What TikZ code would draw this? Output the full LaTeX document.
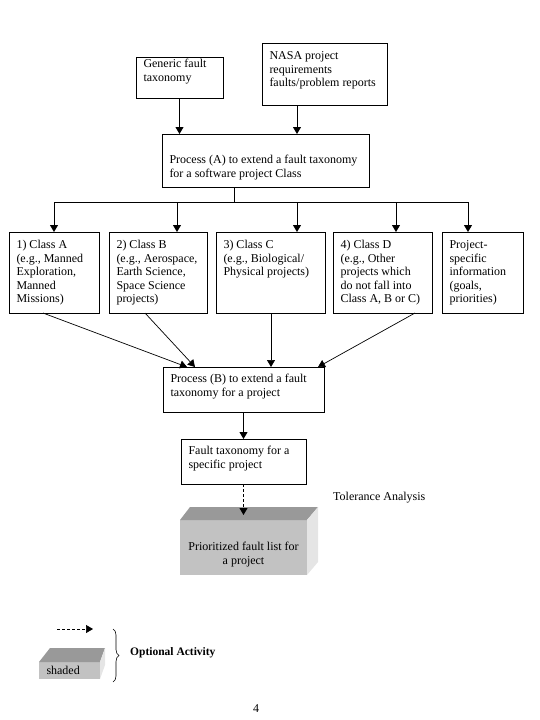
\documentclass[tikz,border=0pt]{standalone}
\usepackage{fontspec}
\setmainfont{Liberation Serif}
\usetikzlibrary{arrows.meta, positioning, decorations.pathreplacing}

% box contents: width, height, top pad, text
\newcommand{\ftext}[4]{\parbox[c][#2][t]{#1}{\raggedright\vspace*{#3}\strut #4}}

\definecolor{topgray}{gray}{0.6}
\definecolor{frontgray}{gray}{0.76}
\definecolor{sidegray}{gray}{0.9}

\begin{document}
\begin{tikzpicture}[x=1pt, y=-1pt,
      font=\fontsize{12}{13.5}\selectfont,
      fbox/.style={draw=black, line width=0.8pt, anchor=north west, inner xsep=7.5pt, inner ysep=0pt, outer sep=0pt},
      shbox/.style={fill=frontgray, anchor=north west, inner xsep=7.5pt, inner ysep=0pt, outer sep=0pt},
      arr/.style={-{Triangle[width=8pt, length=7pt]}, line width=0.9pt, draw=black},
      darr/.style={arr, line width=0.7pt},
      line/.style={line width=0.9pt, draw=black},
      lbl/.style={inner sep=0pt, anchor=base west}
    ]

      \useasboundingbox (0,0) rectangle (540,720);

      % Inputs
      \node[fbox] (gen) at (136,57) {\ftext{72pt}{41pt}{1.5pt}{Generic fault\\taxonomy}};
      \node[fbox] (nasa) at (262,43) {\ftext{110pt}{62pt}{7.5pt}{NASA project\\requirements\\faults/problem reports}};

      % Process A
      \node[fbox] (procA) at (162,134) {\ftext{192pt}{53pt}{20.5pt}{Process (A) to extend a fault taxonomy\\for a software project Class}};

      % Row of classes
      \node[fbox] (clsA) at (9,232) {\ftext{75pt}{81pt}{7.5pt}{1) Class A\\(e.g., Manned\\Exploration,\\Manned\\Missions)}};
      \node[fbox, right=10pt of clsA.north east, anchor=north west] (clsB) {\ftext{83pt}{81pt}{7.5pt}{2) Class B\\(e.g., Aerospace,\\Earth Science,\\Space Science\\projects)}};
      \node[fbox, right=9pt of clsB.north east, anchor=north west] (clsC) {\ftext{94pt}{81pt}{7.5pt}{3) Class C\\(e.g., Biological/\\Physical projects)}};
      \node[fbox, right=8pt of clsC.north east, anchor=north west] (clsD) {\ftext{84pt}{81pt}{7.5pt}{4) Class D\\(e.g., Other\\projects which\\do not fall into\\Class A, B or C)}};
      \node[fbox, right=10pt of clsD.north east, anchor=north west] (proj) {\ftext{66pt}{81pt}{7.5pt}{Project-\\specific\\information\\(goals,\\priorities)}};

      % Process B and result
      \node[fbox] (procB) at (163,367) {\ftext{146pt}{45pt}{6.5pt}{Process (B) to extend a fault\\taxonomy for a project}};
      \node[fbox] (ftax) at (181,439) {\ftext{110pt}{45pt}{6.5pt}{Fault taxonomy for a\\specific project}};

      % Shaded block (optional)
      \node[shbox] (pfl) at (180,520) {\parbox[c][55pt][t]{112pt}{\centering\vspace*{21.5pt}\strut Prioritized fault list for\\a project}};
      \fill[topgray] (pfl.north west) -- ++(10,-13) -- ++(128,0) -- (pfl.north east) -- cycle;
      \fill[sidegray] (pfl.north east) -- ++(11,-13) -- ++(0,55) -- (pfl.south east) -- cycle;

      \node[lbl] (tol) at (333,500) {Tolerance Analysis};

      % Arrows into Process A
      \draw[arr] (gen.south) -- (gen.south |- procA.north);
      \coordinate (nasaout) at ([xshift=-27.5pt]nasa.south);
      \draw[arr] (nasaout) -- (nasaout |- procA.north);

      % Bus from Process A to the classes
      \coordinate (bus) at (234,202);
      \draw[line] ([xshift=-31.5pt]procA.south) -- (bus);
      \coordinate (busend) at ([xshift=-14.5pt]proj.north);
      \draw[line] (bus -| clsA.north) -- (busend |- bus);
      \foreach \b/\dx in {clsA/0, clsB/19, clsC/26.5, clsD/13.5, proj/-14.5} {
        \coordinate (tgt) at ([xshift=\dx pt]\b.north);
        \draw[arr] (tgt |- bus) -- (tgt);
      }

      % Classes into Process B
      \foreach \b/\sx/\ex in {clsA/-11/-56.5, clsB/-13/-48.5, clsC/0.5/27.5, clsD/32.5/74.5} {
        \draw[darr] ([xshift=\sx pt]\b.south) -- ([xshift=\ex pt]procB.north);
      }

      \draw[arr] (procB.south) -- (ftax.north);
      \draw[arr, dash pattern=on 3pt off 2pt] (ftax.south) -- ([yshift=5pt]pfl.north);

      % Legend
      \coordinate (dsA) at (57,629);
      \coordinate (dsB) at (93,629);
      \draw[darr, dash pattern=on 3pt off 2pt] (dsA) -- (dsB);

      \node[shbox] (shd) at (39,662) {\parbox[c][17pt][t]{46pt}{\vspace*{3.5pt}\strut shaded}};
      \fill[topgray] (shd.north west) -- ++(11,-14) -- ++(55,0) -- (shd.north east) -- cycle;
      \fill[sidegray] (shd.north east) -- ++(5,-14) -- ++(0,17) -- (shd.south east) -- cycle;

      \coordinate (brT) at (113,629);
      \coordinate (brB) at (113,682);
      \draw[decorate, decoration={brace, amplitude=6pt}, line width=0.6pt] (brT) -- (brB);
      \node[lbl, font=\bfseries\fontsize{11.5}{13}\selectfont] (opt) at (130,655) {Optional Activity};

      % Page number
      \node[inner sep=0pt, anchor=base] (pgno) at (256,712) {4};

    \end{tikzpicture}
\end{document}
